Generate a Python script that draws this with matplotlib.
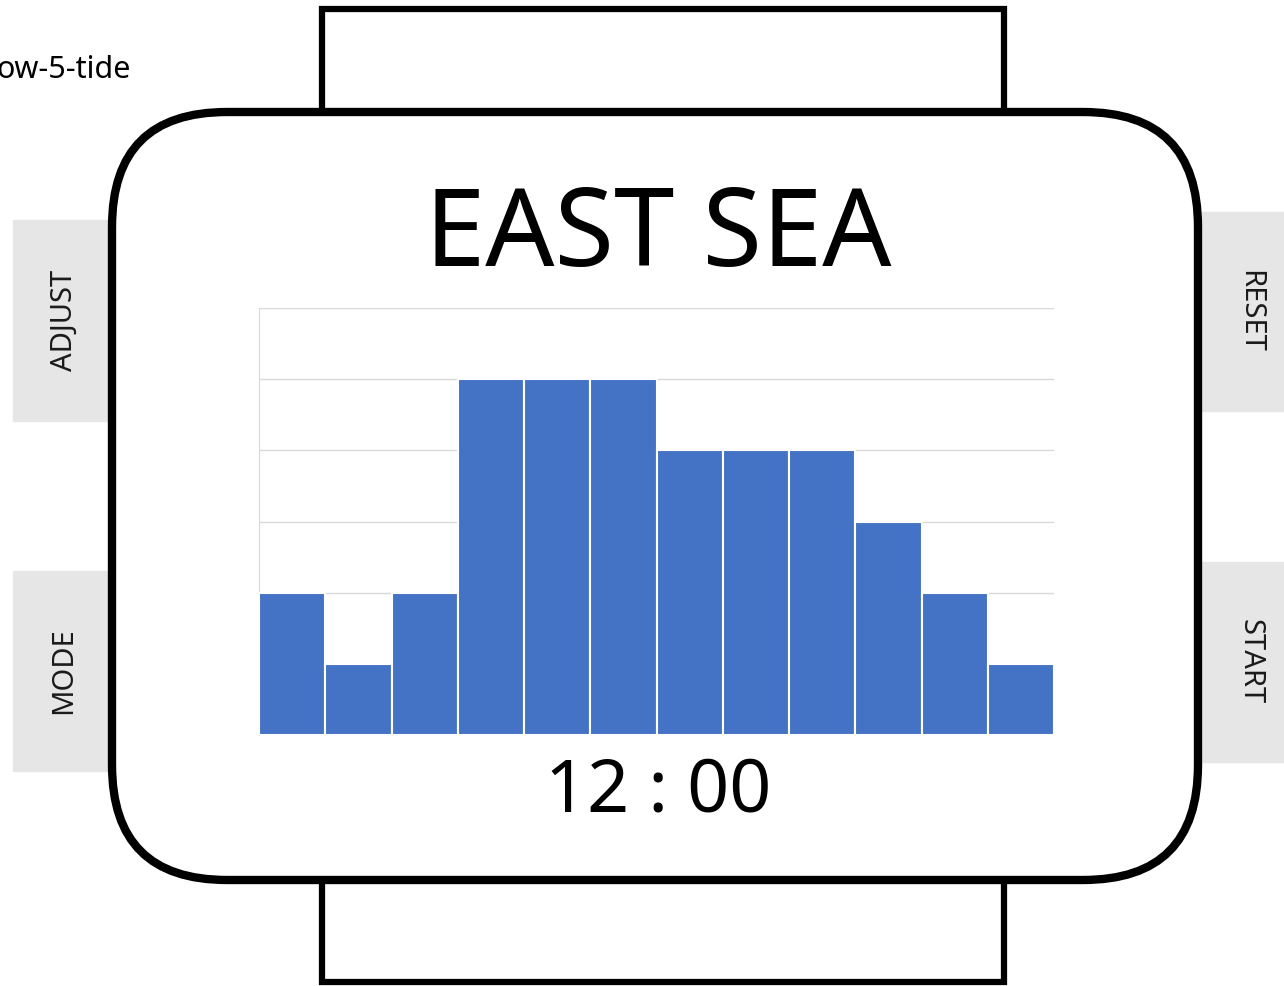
import matplotlib.pyplot as plt
import numpy as np
from matplotlib.patches import FancyBboxPatch, Rectangle

plt.rcParams["font.family"] = ["Noto Sans", "DejaVu Sans"]

# Daten
werte = [2, 1, 2, 5, 5, 5, 4, 4, 4, 3, 2, 1]
titel = "EAST SEA"
uhrzeit = "12 : 00"
knoepfe_links = ["ADJUST", "MODE"]
knoepfe_rechts = ["RESET", "START"]
kopfzeile = "ow-5-tide"

W, H = 1284, 986
fig = plt.figure(figsize=(W / 100, H / 100), dpi=100)

# Hintergrund-Achse in Pixelkoordinaten
bg = fig.add_axes([0, 0, 1, 1])
bg.set_xlim(0, W)
bg.set_ylim(H, 0)
bg.axis("off")

grau = "#e6e6e6"
# Knoepfe links / rechts
for (y0, y1), name in zip([(220, 421), (571, 771)], knoepfe_links):
    bg.add_patch(Rectangle((13, y0), 110, y1 - y0, color=grau, zorder=1))
    bg.text(64, (y0 + y1) / 2, name, rotation=90, ha="center", va="center",
            fontsize=21, color="#1a1a1a", zorder=5)
for (y0, y1), name in zip([(212, 411), (562, 762)], knoepfe_rechts):
    bg.add_patch(Rectangle((1190, y0), 100, y1 - y0, color=grau, zorder=1))
    bg.text(1250, (y0 + y1) / 2, name, rotation=270, ha="center", va="center",
            fontsize=21, color="#1a1a1a", zorder=5)

# Armband oben / unten
bg.add_patch(Rectangle((322, 9), 682, 110, facecolor="white", edgecolor="black",
                       linewidth=4.5, zorder=2))
bg.add_patch(Rectangle((322, 870), 682, 112, facecolor="white", edgecolor="black",
                       linewidth=4.5, zorder=2))

# Gehaeuse
bg.add_patch(FancyBboxPatch((112, 112), 1086, 768,
                            boxstyle="round,pad=0,rounding_size=115",
                            facecolor="white", edgecolor="black",
                            linewidth=6, zorder=3))

bg.text(658, 238, titel, ha="center", va="center", fontsize=78, zorder=5)
bg.text(658, 792, uhrzeit, ha="center", va="center", fontsize=53, zorder=5)
bg.text(-4, 70, kopfzeile, ha="left", va="center", fontsize=22, zorder=5)

# Balkendiagramm
ax = fig.add_axes([259 / W, 1 - 735 / H, 795 / W, (735 - 308) / H])
ax.set_zorder(10)
ax.patch.set_alpha(0)
x = np.arange(len(werte))
ax.bar(x, werte, width=1, color="#4472c4", edgecolor="white", linewidth=1.5, zorder=3)
ax.set_xlim(-0.5, len(werte) - 0.5)
ax.set_ylim(0, 6)
ax.set_yticks(np.arange(0, 7))
ax.yaxis.grid(True, color="#d9d9d9", linewidth=1)
ax.tick_params(left=False, bottom=False, labelleft=False, labelbottom=False)
for s in ["top", "right", "bottom"]:
    ax.spines[s].set_visible(False)
ax.spines["left"].set_color("#d9d9d9")

fig.savefig("out.png", dpi=100)
